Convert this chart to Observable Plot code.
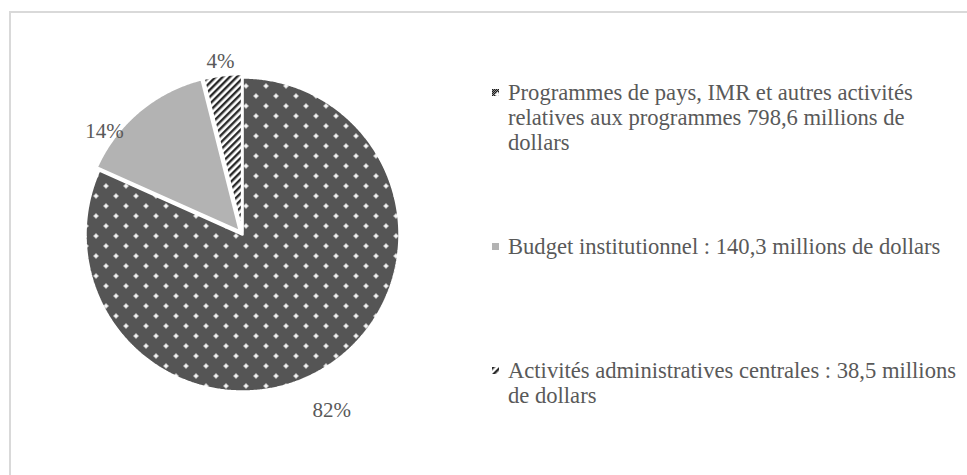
<!DOCTYPE html>
<html>
<head>
<meta charset="utf-8">
<script src="https://cdn.jsdelivr.net/npm/d3@7"></script>
<script src="https://cdn.jsdelivr.net/npm/@observablehq/plot@0.6"></script>
<style>
  html, body { margin: 0; padding: 0; background: #fff; overflow: hidden; width: 967px; height: 475px; }
  #frame { position: absolute; left: 9px; top: 11px; width: 1000px; height: 520px;
           border-left: 2px solid #d9d9d9; border-top: 2px solid #d9d9d9; }
  #chart { position: absolute; left: 0; top: 0; }
  #legend { position: absolute; left: 0; top: 0; font-family: "Liberation Serif", "Times New Roman", serif;
            font-size: 22.6px; line-height: 25px; color: #595959; }
  .item { position: absolute; left: 508px; white-space: nowrap; }
  .item svg { position: absolute; left: -16px; top: 9px; }
</style>
</head>
<body>
<div id="frame"></div>
<div id="chart"></div>
<div id="legend"></div>
<script>
// Budget breakdown (millions of dollars)
const categories = [
  "Programmes de pays, IMR et autres activités relatives aux programmes 798,6 millions de dollars",
  "Budget institutionnel : 140,3 millions de dollars",
  "Activités administratives centrales : 38,5 millions de dollars"
];
const legendLines = [
  ["Programmes de pays, IMR et autres activités", "relatives aux programmes 798,6 millions de", "dollars"],
  ["Budget institutionnel : 140,3 millions de dollars"],
  ["Activités administratives centrales : 38,5 millions", "de dollars"]
];
const amounts = [798.6, 140.3, 38.5];
const pctLabels = ["82%", "14%", "4%"];

// layout
const cx = 242, cy = 234, R = 157, W = 480, H = 475;
const explode = [0, 0.025, 0.022];
const fills = ["url(#dots)", "#b3b3b3", "url(#hatch)"];
const legendTops = [80, 234, 358];
// hand-placed label offsets (px) from the default spot outside each slice
const labelShift = [[-8, 26], [-23, 34], [0, 4]];

// slice outlines in unit-circle coordinates (angle 0 at top, clockwise)
const arcs = d3.pie().sort(null).value(d => d)(amounts);
const outline = [];
const labels = [];
arcs.forEach((a, i) => {
  const mid = (a.startAngle + a.endAngle) / 2;
  const ox = explode[i] * Math.sin(mid), oy = explode[i] * Math.cos(mid);
  const n = Math.max(4, Math.ceil((a.endAngle - a.startAngle) / 0.008));
  outline.push({slice: i, x: ox, y: oy});
  for (let k = 0; k <= n; k++) {
    const t = a.startAngle + (a.endAngle - a.startAngle) * k / n;
    outline.push({slice: i, x: ox + Math.sin(t), y: oy + Math.cos(t)});
  }
  outline.push({slice: i, x: ox, y: oy});
  labels.push({text: pctLabels[i], x: 1.14 * Math.sin(mid), y: 1.14 * Math.cos(mid)});
});

const plot = Plot.plot({
  width: W, height: H,
  margin: 0,
  x: {domain: [-cx / R, (W - cx) / R], axis: null},
  y: {domain: [(cy - H) / R, cy / R], axis: null},
  marks: [
    ...arcs.map((a, i) => Plot.line(outline.filter(d => d.slice === i), {
      x: "x", y: "y", fill: fills[i], stroke: "white", strokeWidth: 2.5, strokeLinejoin: "miter"
    })),
    ...labels.map((l, i) => Plot.text([l], {
      x: "x", y: "y", text: "text", fill: "#595959", fontSize: 21,
      fontFamily: "Liberation Serif", textAnchor: "middle",
      dx: labelShift[i][0], dy: labelShift[i][1]
    }))
  ]
});

d3.select(plot).insert("defs", ":first-child").html(`
  <pattern id="chk" width="2" height="2" patternUnits="userSpaceOnUse">
    <rect width="2" height="2" fill="#8e8e8e"/>
    <rect width="1" height="1" fill="#1c1c1c"/>
    <rect x="1" y="1" width="1" height="1" fill="#1c1c1c"/>
  </pattern>
  <pattern id="dots" width="20" height="20" patternUnits="userSpaceOnUse">
    <rect width="20" height="20" fill="url(#chk)"/>
    <path d="M5 3h1v5h-1z M3 5h5v1h-5z M15 13h1v5h-1z M13 15h5v1h-5z" fill="#f4f4f4"/>
    <path d="M4 4h3v3h-3z M14 14h3v3h-3z" fill="#fff" opacity="0.85"/>
  </pattern>
  <pattern id="hatch" width="5" height="5" patternUnits="userSpaceOnUse" patternTransform="rotate(45)">
    <rect width="5" height="5" fill="#fff"/>
    <rect width="2.4" height="5" fill="#2a2a2a"/>
  </pattern>`);
document.getElementById("chart").appendChild(plot);

// legend
const legend = d3.select("#legend");
categories.forEach((c, i) => {
  const item = legend.append("div").attr("class", "item").attr("title", c)
    .style("top", legendTops[i] + "px");
  item.append("svg").attr("width", 7).attr("height", 7)
    .append("rect").attr("width", 7).attr("height", 7).attr("fill", fills[i]);
  item.append("div").html(legendLines[i].join("<br>"));
});
</script>
</body>
</html>
